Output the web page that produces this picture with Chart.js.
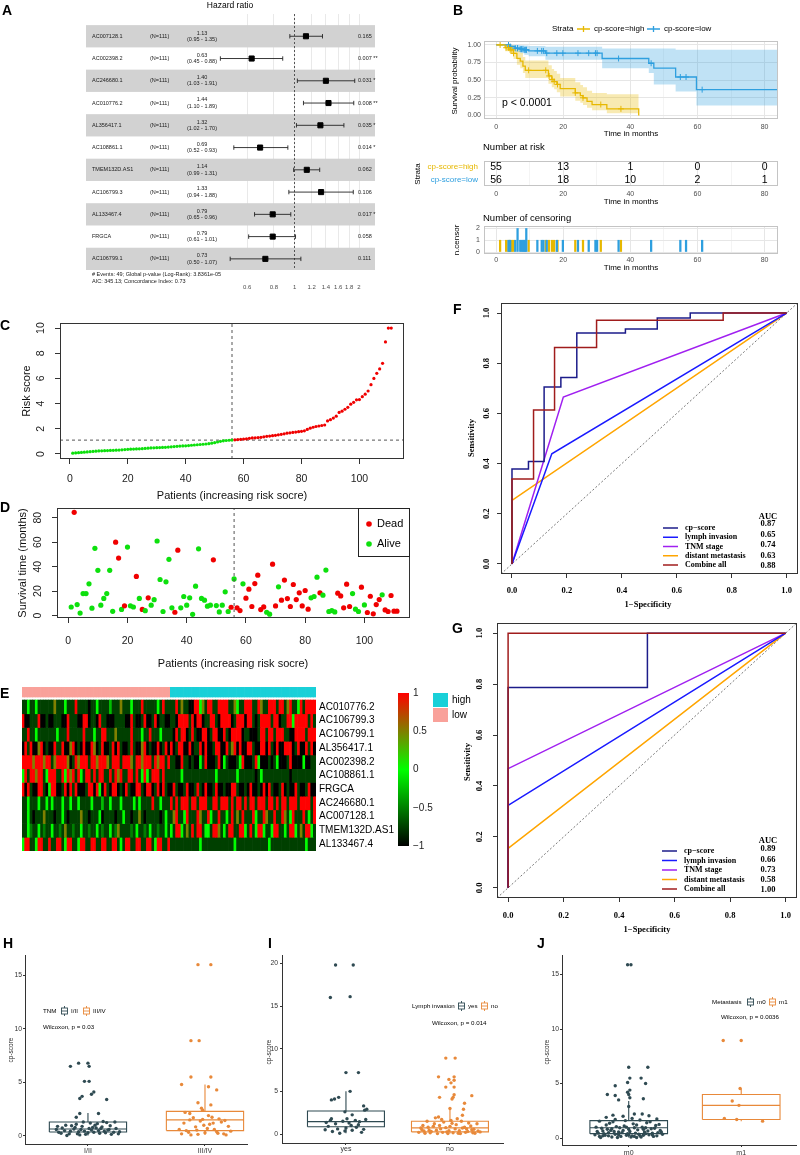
<!DOCTYPE html>
<html>
<head>
<meta charset="utf-8">
<title>cp-score figure</title>
<script src="https://cdn.jsdelivr.net/npm/chart.js@4.4.1/dist/chart.umd.min.js"></script>
<style>
  body { margin: 0; width: 800px; height: 1155px; position: relative; background: #fff; overflow: hidden;
         font-family: "Liberation Sans", Arial, sans-serif; }
  canvas { position: absolute; }
  .lbl { position: absolute; white-space: nowrap; line-height: 1; color: #000; }
</style>
</head>
<body>
<script>
// ---------------- data ----------------
// A: multivariate cox forest plot
const genes = ['AC007128.1','AC002398.2','AC246680.1','AC010776.2','AL356417.1','AC108861.1','TMEM132D.AS1','AC106799.3','AL133467.4','FRGCA','AC106799.1'];
const hr   = [1.13, 0.63, 1.40, 1.44, 1.32, 0.69, 1.14, 1.33, 0.79, 0.79, 0.73];
const hrLo = [0.95, 0.45, 1.03, 1.10, 1.02, 0.52, 0.99, 0.94, 0.65, 0.61, 0.50];
const hrHi = [1.35, 0.88, 1.91, 1.89, 1.70, 0.93, 1.31, 1.88, 0.96, 1.01, 1.07];
const pVal = ['0.165','0.007 **','0.031 *','0.008 **','0.035 *','0.014 *','0.062','0.106','0.017 *','0.058','0.111'];
const hrTicks = [0.6, 0.8, 1, 1.2, 1.4, 1.6, 1.8, 2];

// B: Kaplan-Meier
const kmHighT = [0, 2.7, 4.2, 5.2, 6.2, 7.2, 8.0, 8.7, 15.6, 16.6, 17.3, 18.1, 19.1, 23.6, 25.1, 25.9, 27.1, 28.6, 33.0, 42.5];
const kmHighS = [1, 0.96, 0.93, 0.88, 0.81, 0.77, 0.70, 0.64, 0.56, 0.51, 0.48, 0.44, 0.38, 0.32, 0.28, 0.25, 0.20, 0.155, 0.094, 0];
const kmHighU = [1, 1, 1, 0.97, 0.92, 0.89, 0.83, 0.78, 0.71, 0.66, 0.63, 0.59, 0.53, 0.47, 0.43, 0.40, 0.35, 0.32, 0.30, 0.30];
const kmHighL = [1, 0.91, 0.87, 0.80, 0.72, 0.67, 0.60, 0.53, 0.45, 0.40, 0.37, 0.33, 0.27, 0.21, 0.18, 0.15, 0.11, 0.075, 0.03, 0];
const kmLowT = [0, 4.2, 5.7, 7.2, 8.4, 9.7, 14.7, 31.6, 45.5, 47.0, 53.5, 59.7, 84];
const kmLowS = [1, 0.977, 0.953, 0.94, 0.93, 0.915, 0.883, 0.807, 0.74, 0.67, 0.545, 0.366, 0.366];
const kmLowU = [1, 1, 1, 0.995, 0.99, 0.985, 0.975, 0.95, 0.95, 0.95, 0.93, 0.93, 0.93];
const kmLowL = [1, 0.93, 0.90, 0.88, 0.86, 0.84, 0.79, 0.67, 0.60, 0.44, 0.34, 0.14, 0.14];
const censorHigh = [1.2, 3.0, 3.7, 4.2, 4.7, 5.2, 9.7, 14.8, 15.8, 16.7, 17.3, 18.3, 23.6, 25.9, 31.2, 37.2];
const censorLow = [3.7, 4.2, 5.7, 6.4, 6.4, 7.2, 7.6, 8.0, 8.4, 8.7, 9.0, 9.0, 12.3, 13.6, 14.1, 15.1, 18.1, 19.9, 24.4, 27.6, 29.6, 30.1, 36.5, 46.2, 54.9, 56.6, 61.4];
const riskTimes = [0, 20, 40, 60, 80];
const riskHigh = [55, 13, 1, 0, 0];
const riskLow = [56, 18, 10, 2, 1];
const strata = ['cp-score=high', 'cp-score=low'];

// C: risk score per patient (sorted)
const riskScore = [0.06,0.08,0.10,0.12,0.14,0.16,0.18,0.20,0.22,0.24, 0.25,0.26,0.27,0.28,0.29,0.30,0.31,0.33,0.35,0.37,
  0.38,0.39,0.40,0.41,0.42,0.44,0.46,0.48,0.49,0.50, 0.51,0.52,0.53,0.55,0.57,0.59,0.61,0.63,0.64,0.65,
  0.67,0.69,0.71,0.73,0.75,0.77,0.79,0.82,0.86,0.90, 0.95,1.00,1.04,1.07,1.09,1.10,1.12,1.14,1.16,1.18,
  1.20,1.24,1.27,1.28,1.30,1.32,1.36,1.40,1.42,1.45, 1.48,1.52,1.56,1.60,1.65,1.68,1.71,1.74,1.77,1.80,
  1.84,1.95,2.05,2.12,2.18,2.22,2.26,2.30,2.62,2.72, 2.85,3.00,3.30,3.40,3.55,3.70,3.95,4.10,4.30,4.32,
  4.55,4.75,5.00,5.50,6.00,6.40,6.75,7.20,8.90,10.0, 10.0];
const nLow = 56;
const riskCut = 1.1;

// D: survival time and status (1 = dead)
const survTime = [7,84.5,9,2,18,18,26,6,55,37, 8.5,14,18,37,3.5,60,47,5,8,56, 8,7,32,14,5,4,14.5,8.5,13,61,
  29.5,3.3,27.6,46,6.3,2.7,53.5,6.3,15.6,8.5, 14.5,1,24,54.6,14,12.6,7.7,8.5,45.6,8.2, 3,8.5,19.4,3.3,6.8,30,6.3,4.1,26,14.2,
  21.6,7.4,26.2,33,4.9,7.1,2.7,1.1,42,7.9, 23.5,12.6,29,13.9,7.4,25.4,13.1,18.6,7.9,20.5, 5.2,14.5,15.6,31.4,18.6,16.7,37.2,3.3,4.1,3,
  18.3,16.1,6.3,25.7,7.4,18,5.2,3.3,23.2,8.7, 2.5,15.8,1.4,9,13.1,17,4.6,3.3,16.4,3.6,3.6];
const survDead = [0,1,0,0,0,0,0,0,0,0, 0,0,0,0,0,1,1,0,1,0, 0,0,1,0,1,0,1,0,0,0, 0,0,0,0,0,1,1,0,0,0,
  0,0,0,0,0,0,0,0,1,0, 0,0,0,0,1,0,1,1,0,1, 1,1,1,1,1,1,0,0,1,1, 0,1,1,1,1,1,1,1,1,1,
  1,0,0,0,1,0,0,0,0,0, 1,1,1,1,1,0,0,0,1,0, 1,1,1,1,1,0,1,1,1,1,1];

// E: heatmap, levels 0..8 -> -1..1 (56 low-risk columns, then 55 high-risk columns)
const heatGenes = ['AC010776.2','AC106799.3','AC106799.1','AL356417.1','AC002398.2','AC108861.1','FRGCA','AC246680.1','AC007128.1','TMEM132D.AS1','AL133467.4'];
const heatRows = [
  '1141141111 1161114111 8111101141 1113111611 1411181111 141811  1181611008 8461881188 8811641188 8118611888 1881681148 18888',
  '8001118001 0011100811 1008801108 1100011110 0810018001 801100  1108888180 8801188108 8880188808 8101888818 8011884888 88181',
  '1181141111 1114111811 1118111411 8811161111 1811141181 114111  1081880181 0088018800 8108888011 0001881881 8881100888 81888',
  '0818006801 0081180068 0108008601 8001808100 1810068010 080180  8018800801 1808001880 0816808008 8100880810 8008880180 08180',
  '8888688868 8168888601 8688818868 8861888188 8618868881 868818  1100811010 0418000180 4100014800 0184000101 4000180000 40011',
  '4818868814 8881184868 1841881818 8118186811 8818148418 881811  1111411111 1111111411 1111141111 1101411111 1111101111 11111',
  '8081008810 4880018081 8000188084 0810880108 1008810880 180810  0810018001 8108001800 1008810010 8001080810 0180100810 01800',
  '1141114114 1411141141 1411114111 3114111411 1141411118 114111  8181888188 1888118818 8818188181 8818881881 8188188818 88818',
  '1141011161 1101141011 1161101114 0111101141 1011610111 110141  1681148111 8611841181 1418161811 1841186118 1186148111 81418',
  '1142114121 1411216112 1141121141 2114126111 1214112141 121141  4188416181 8814418861 4188118841 8148841148 8114188416 18841',
  '4881148811 8118814881 1488118811 8811881418 8118811881 488118  1111111111 1411111111 1111411111 1111111411 1111111111 14111'
];
const heatKey = [1, 0.5, 0, -0.5, -1];
const heatKeyLab = ['1', '0.5', '0', '\u22120.5', '\u22121'];

// F, G: ROC curves
const rocNames = ['cp\u2212score', 'lymph invasion', 'TNM stage', 'distant metastasis', 'Combine all'];
const fCp = [[0,0],[0,0.378],[0.06,0.378],[0.06,0.408],[0.117,0.408],[0.117,0.705],[0.178,0.705],[0.178,0.743],[0.236,0.743],[0.236,0.92],[0.413,0.92],[0.413,0.936],[0.529,0.936],[0.529,0.98],[0.649,0.98],[0.649,1],[1,1]];
const fLymph = [[0,0],[0.145,0.439],[1,1]];
const fTnm = [[0,0],[0.187,0.665],[1,1]];
const fMeta = [[0,0],[0,0.253],[1,1]];
const fAll = [[0,0],[0,0.339],[0.0785,0.339],[0.0785,0.614],[0.155,0.614],[0.155,0.863],[0.308,0.863],[0.308,0.971],[0.769,0.971],[0.769,1],[1,1]];
const aucF = ['0.87', '0.65', '0.74', '0.63', '0.88'];
const gCp = [[0,0],[0,0.787],[0.502,0.787],[0.502,1],[1,1]];
const gLymph = [[0,0],[0,0.324],[1,1]];
const gTnm = [[0,0],[0,0.468],[1,1]];
const gMeta = [[0,0],[0,0.155],[1,1]];
const gAll = [[0,0],[0,1],[1,1]];
const aucG = ['0.89', '0.66', '0.73', '0.58', '1.00'];

// H, I, J: box plots  [lower whisker, q1, median, q3, upper whisker], points [jitter, value]
const hCats = ['I/II', 'III/IV'];
const hStats = [[0.05, 0.37, 0.65, 1.3, 2.15], [0.1, 0.5, 1.5, 2.3, 4.8]];
const hDark = [[-0.15,6.5],[-0.08,6.8],[0,6.8],[0.01,6.5],[-0.03,5.1],[0.01,5.1],[0.05,4.1],[0.03,3.9],[-0.05,3.7],[-0.07,3.5],[0.16,3.4],[-0.07,2.1],[0.09,2.1],[-0.1,1.75],
  [-0.25,0.35],[-0.2,0.5],[-0.16,0.2],[-0.12,0.65],[-0.08,0.4],[-0.05,0.9],[0,0.3],[0.03,0.55],[0.07,0.75],[0.1,0.25],[0.14,0.45],[0.18,0.6],[0.22,0.35],[0.26,0.2],
  [-0.22,0.75],[-0.18,0.05],[-0.14,0.95],[-0.1,1.1],[-0.04,1.3],[0.02,1.2],[0.06,1.0],[0.12,0.85],[0.16,1.25],[0.2,0.15],[0.24,0.7],[-0.27,0.6],[-0.02,0.15],[0.04,0.8],
  [0.09,0.5],[-0.06,0.6],[0.13,1.35],[-0.15,0.45],[0.19,0.95],[-0.09,0.2],[0.01,0.7],[0.27,0.4],[-0.23,0.25],[-0.11,0.8],[0.05,0.35],[0.11,0.7],[-0.19,1.0],[0.15,0.3],
  [0.08,1.15],[-0.03,0.45],[0.23,1.3],[-0.26,0.9],[0.17,0.55],[-0.07,0.1]];
const hOrange = [[-0.06,16],[0.05,16],[-0.12,8.9],[-0.05,8.9],[-0.2,4.8],[-0.12,5.5],[0.05,5.5],[0.03,4.6],[0.1,4.3],[-0.06,3.1],[0.05,2.9],[-0.02,2.4],[-0.17,2.2],[-0.13,2.1],[-0.03,2.6],
  [-0.2,0.2],[-0.16,0.5],[-0.12,0.1],[-0.08,0.85],[-0.04,1.4],[0,0.3],[0.04,1.1],[0.08,0.6],[0.12,1.6],[0.16,0.2],[0.2,0.9],[-0.18,1.2],[-0.14,0.35],[-0.1,1.7],[-0.06,0.15],
  [-0.02,1.55],[0.02,0.7],[0.06,1.75],[0.1,0.4],[0.14,1.3],[0.18,0.1],[-0.22,0.6],[-0.01,1.0],[0.11,0.25],[-0.13,1.5],[0.07,1.2],[0.22,0.45],[-0.07,0.55],[0.03,1.9],[0.17,1.45]];
const iCats = ['yes', 'no'];
const iStats = [[0.1, 0.85, 1.45, 2.7, 5.0], [0.05, 0.25, 0.72, 1.5, 3.0]];
const iDark = [[-0.1,19.8],[0.07,19.8],[-0.15,16],[0.04,16.1],[0,7.2],[0.12,7.2],[0.04,5.0],[-0.14,4.0],[-0.11,4.1],[-0.07,4.3],[0.17,3.3],[-0.01,2.6],[0.18,2.8],[0.2,2.9],[0.06,2.25],[-0.14,1.8],
  [-0.2,0.5],[-0.17,0.9],[-0.13,0.3],[-0.1,1.2],[-0.06,0.1],[-0.03,1.5],[0,0.7],[0.03,1.3],[0.06,0.45],[0.09,1.6],[0.12,1.1],[0.15,0.2],[0.19,1.7],[-0.19,1.35],[-0.08,0.6],
  [0.01,1.8],[0.1,0.8],[-0.15,1.6],[0.05,1.0],[0.17,0.55],[-0.01,0.35],[0.13,1.45]];
const iOrange = [[-0.04,8.9],[0.05,8.9],[-0.11,6.7],[0.04,6.7],[-0.01,6.4],[0.04,6.3],[0.01,6.0],[0.04,5.5],[-0.04,5.5],[-0.1,4.3],[0.21,4.5],[0.04,4.6],[0.03,4.3],[0.02,4.1],[0.14,3.6],[0,3.0],[0.13,2.9],[-0.11,2.0],[0.12,2.2],
  [-0.3,0.2],[-0.27,0.5],[-0.24,0.1],[-0.21,0.8],[-0.18,0.3],[-0.15,1.2],[-0.12,0.05],[-0.09,0.6],[-0.06,1.4],[-0.03,0.25],[0,0.9],[0.03,0.15],[0.06,1.1],[0.09,0.4],[0.12,0.7],
  [0.15,0.2],[0.18,1.3],[0.21,0.5],[0.24,0.1],[0.27,0.35],[-0.28,0.7],[-0.25,0.35],[-0.22,1.5],[-0.19,0.15],[-0.16,0.9],[-0.13,0.45],[-0.1,1.0],[-0.07,0.2],[-0.04,0.75],
  [-0.01,0.4],[0.02,1.25],[0.05,0.6],[0.08,0.1],[0.11,1.5],[0.14,0.8],[0.17,0.3],[0.2,0.95],[0.23,0.55],[0.26,1.2],[0.29,0.25],[-0.08,1.7],[0.01,1.6],[0.07,1.8],[-0.14,1.9],
  [0.16,0.6],[-0.2,0.45],[0.1,0.05],[-0.02,0.05],[0.22,0.15],[-0.26,1.0]];
const jCats = ['m0', 'm1'];
const jStats = [[0.05, 0.4, 0.95, 1.6, 3.4], [1.55, 1.7, 3.0, 4.0, 4.55]];
const jDark = [[-0.01,15.9],[0.02,15.9],[0,6.5],[0.17,6.5],[0.01,5.5],[0.11,5.5],[-0.01,5.1],[0.15,5.0],[-0.12,4.8],[0.01,4.4],[-0.01,4.2],[-0.19,4.0],[-0.12,3.9],[0,4.0],[0.01,3.7],
  [-0.09,3.5],[0.13,3.6],[0,2.9],[0.05,2.2],[0.12,2.2],[-0.14,2.1],
  [-0.3,0.3],[-0.28,0.6],[-0.26,0.15],[-0.24,0.9],[-0.22,0.4],[-0.2,1.2],[-0.18,0.2],[-0.16,0.7],[-0.14,1.5],[-0.12,0.35],[-0.1,0.05],[-0.08,0.95],[-0.06,0.5],[-0.04,1.1],
  [-0.02,0.25],[0,0.8],[0.02,0.1],[0.04,1.3],[0.06,0.45],[0.08,0.75],[0.1,0.2],[0.12,1.0],[0.14,0.55],[0.16,1.4],[0.18,0.3],[0.2,0.85],[0.22,0.15],[0.24,1.15],[0.26,0.5],
  [0.28,0.7],[0.3,0.35],[-0.29,1.0],[-0.27,0.45],[-0.25,0.05],[-0.23,0.65],[-0.21,0.25],[-0.19,0.8],[-0.17,1.35],[-0.15,0.1],[-0.13,0.6],[-0.11,1.05],[-0.09,0.3],[-0.07,0.15],
  [-0.05,0.7],[-0.03,1.6],[-0.01,0.4],[0.01,0.6],[0.03,0.2],[0.05,0.95],[0.07,1.2],[0.09,0.35],[0.11,0.1],[0.13,0.8],[0.15,0.4],[0.17,0.65],[0.19,1.5],[0.21,0.3],[0.23,0.9],
  [0.25,0.2],[0.27,1.25],[0.29,0.55],[-0.2,1.9],[-0.12,1.7],[-0.05,2.0],[0.03,1.8],[0.1,1.65],[0.18,2.05],[0.25,1.75],[-0.26,1.55],[0.07,0.05],[-0.18,0.5],[0,0.3],[-0.09,0.55],
  [0.13,0.25],[0.21,0.45],[-0.02,1.0],[0.15,0.95],[-0.15,0.85],[0.05,0.15],[-0.23,0.2]];
const jOrange = [[-0.16,8.95],[0,8.95],[-0.01,4.55],[-0.08,3.4],[-0.02,3.0],[-0.15,1.8],[-0.04,1.7],[0.19,1.55]];

// ---------------- styles ----------------
const kmCol = ['#E7B800', '#2E9FDF'];
const groupCols = ['#F9A19A', '#19D0D8'];   // low, high
const rocCols = ['#1c1c8a', '#1a1aff', '#a020f0', '#ffa500', '#a01c1c'];
const boxCols = ['#2F4A52', '#E8893A'];
const SERIF = '"Liberation Serif", "Times New Roman", serif';
const GAP = { x: null, y: null };

Chart.defaults.animation = false;
Chart.defaults.font.family = '"Liberation Sans", Arial, sans-serif';
Chart.defaults.plugins.legend.display = false;
Chart.defaults.plugins.tooltip.enabled = false;

function canvas(x, y, w, h) {
  const c = document.createElement('canvas');
  c.width = w; c.height = h;
  c.style.left = x + 'px'; c.style.top = y + 'px';
  c.style.width = w + 'px'; c.style.height = h + 'px';
  document.body.appendChild(c);
  return c;
}
function put(text, x, y, css, how) {
  const d = document.createElement('div');
  d.className = 'lbl';
  d.textContent = text;
  d.style.left = x + 'px'; d.style.top = y + 'px';
  let t = how === 'l' ? 'translate(0,-50%)' : how === 'r' ? 'translate(-100%,-50%)' : 'translate(-50%,-50%)';
  if (how === 'v') t += ' rotate(-90deg)';
  d.style.transform = t;
  d.style.cssText += css;
  document.body.appendChild(d);
}
const base = extra => Object.assign({ responsive: false, devicePixelRatio: 1, events: [], animation: false }, extra);
const fixTicks = vals => s => { s.ticks = vals.map(v => ({ value: v })); };

// frame round the plot area, and y tick labels written up the axis (R style)
Chart.register({
  id: 'frame',
  afterDatasetsDraw(ch, a, o) {
    if (!o || !o.color) return;
    const r = ch.chartArea, ctx = ch.ctx;
    ctx.save(); ctx.strokeStyle = o.color; ctx.lineWidth = 1;
    ctx.strokeRect(Math.round(r.left) + 0.5, Math.round(r.top) + 0.5, Math.round(r.right - r.left) - 1, Math.round(r.bottom - r.top) - 1);
    ctx.restore();
  }
});
Chart.register({
  id: 'rotY',
  afterDraw(ch, a, o) {
    if (!o || !o.values) return;
    const s = ch.scales.y, ctx = ch.ctx;
    ctx.save(); ctx.font = o.font; ctx.fillStyle = o.color || '#000';
    ctx.textAlign = 'center'; ctx.textBaseline = 'middle';
    o.values.forEach(v => {
      ctx.save(); ctx.translate(o.x, s.getPixelForValue(v)); ctx.rotate(-Math.PI / 2);
      ctx.fillText(o.fmt(v), 0, 0); ctx.restore();
    });
    ctx.restore();
  }
});

// ---------------- A: forest plot ----------------
{
  const c = canvas(0, 0, 400, 300);
  const whisk = [];
  genes.forEach((g, i) => { whisk.push({ x: hrLo[i], y: i + 1 }, { x: hrHi[i], y: i + 1 }, GAP); });
  const forest = {
    id: 'forest',
    beforeDatasetsDraw(ch) {
      const { ctx, chartArea: a, scales: { y } } = ch;
      ctx.save(); ctx.fillStyle = '#d2d2d2';
      genes.forEach((g, i) => {
        if (i % 2) return;
        const t = y.getPixelForValue(i + 0.5), b = y.getPixelForValue(i + 1.5);
        ctx.fillRect(a.left, t, a.right - a.left, b - t);
      });
      ctx.restore();
    },
    afterDatasetsDraw(ch) {
      const { ctx, scales: { y } } = ch;
      ctx.save(); ctx.fillStyle = '#1a1a1a'; ctx.font = '5.5px "Liberation Sans"'; ctx.textBaseline = 'middle';
      genes.forEach((g, i) => {
        const py = y.getPixelForValue(i + 1);
        ctx.textAlign = 'left';
        ctx.fillText(g, 92, py); ctx.fillText('(N=111)', 150, py); ctx.fillText(pVal[i], 358, py);
        ctx.textAlign = 'center';
        ctx.fillText(hr[i].toFixed(2), 202, py - 3.2);
        ctx.fillText('(' + hrLo[i].toFixed(2) + ' - ' + hrHi[i].toFixed(2) + ')', 202, py + 3.2);
      });
      ctx.textAlign = 'left';
      ctx.fillText('# Events: 49; Global p-value (Log-Rank): 3.8361e-05', 92, 274);
      ctx.fillText('AIC: 345.13; Concordance Index: 0.73', 92, 281);
      ctx.font = '8.5px "Liberation Sans"'; ctx.textAlign = 'center'; ctx.fillStyle = '#000';
      ctx.fillText('Hazard ratio', 230, 6);
      ctx.restore();
    }
  };
  new Chart(c, {
    type: 'scatter',
    data: { datasets: [
      { data: hr.map((v, i) => ({ x: v, y: i + 1 })), pointStyle: 'rect', pointRadius: 3.6, backgroundColor: '#000', borderColor: '#000' },
      { data: whisk, showLine: true, spanGaps: false, borderColor: '#222', borderWidth: 0.9, pointStyle: 'line', pointRotation: 90, pointRadius: 2.2, pointBorderColor: '#222', pointBorderWidth: 0.9 },
      { data: [{ x: 1, y: 0 }, { x: 1, y: 11.5 }], showLine: true, borderColor: '#333', borderWidth: 0.8, borderDash: [2, 2], pointRadius: 0 }
    ] },
    options: base({
      layout: { padding: { left: 86, right: 25, top: 14, bottom: 0 } },
      scales: {
        x: { type: 'logarithmic', min: 0.106, max: 2.375, afterFit: s => { s.height = 30; }, afterBuildTicks: fixTicks(hrTicks),
             ticks: { callback: v => String(v), font: { size: 6 }, color: '#4d4d4d', padding: 14, maxRotation: 0, autoSkip: false },
             grid: { color: '#e3e3e3', lineWidth: 0.8, drawTicks: false }, border: { display: false } },
        y: { display: false, min: 0, max: 11.5, reverse: true }
      }
    }),
    plugins: [forest]
  });
}

// ---------------- B: Kaplan-Meier, risk table, censoring ----------------
const survAt = (T, S, t) => { let s = S[0]; T.forEach((ti, i) => { if (ti <= t) s = S[i]; }); return s; };
const kmX = (h, pad) => ({
  type: 'linear', min: -3.6, max: 84, afterFit: s => { s.height = h; }, afterBuildTicks: fixTicks([0, 10, 20, 30, 40, 50, 60, 70, 80]),
  ticks: { callback: (v, i) => (i % 2 ? '' : String(v)), font: { size: 7 }, color: '#4d4d4d', padding: pad, maxRotation: 0, autoSkip: false },
  grid: { color: ctx => (ctx.index % 2 ? '#f4f4f4' : '#e6e6e6'), drawTicks: false, offset: false }, border: { display: false }
});
{
  const c = canvas(400, 0, 400, 142);
  const pts = (T, S) => T.map((t, i) => ({ x: t, y: S[i] }));
  const none = 'rgba(0,0,0,0)';
  const kmKey = {
    id: 'kmKey',
    afterDraw(ch) {
      const ctx = ch.ctx;
      ctx.save(); ctx.lineWidth = 1.3;
      [[177, kmCol[0]], [247, kmCol[1]]].forEach(([x, col]) => {
        ctx.strokeStyle = col; ctx.beginPath();
        ctx.moveTo(x, 29); ctx.lineTo(x + 13, 29);
        ctx.moveTo(x + 6.5, 26); ctx.lineTo(x + 6.5, 32); ctx.stroke();
      });
      ctx.restore();
    }
  };
  new Chart(c, {
    type: 'line',
    data: { datasets: [
      { data: censorHigh.map(t => ({ x: t, y: survAt(kmHighT, kmHighS, t) })), showLine: false, pointStyle: 'cross', pointRadius: 3, borderColor: kmCol[0], pointBorderWidth: 1 },
      { data: censorLow.map(t => ({ x: t, y: survAt(kmLowT, kmLowS, t) })), showLine: false, pointStyle: 'cross', pointRadius: 3, borderColor: kmCol[1], pointBorderWidth: 1 },
      { data: pts(kmHighT, kmHighS), stepped: true, borderColor: kmCol[0], borderWidth: 1.3, pointRadius: 0 },
      { data: pts(kmLowT, kmLowS), stepped: true, borderColor: kmCol[1], borderWidth: 1.3, pointRadius: 0 },
      { data: pts(kmHighT, kmHighU), stepped: true, borderColor: none, borderWidth: 0, pointRadius: 0, fill: '+1', backgroundColor: 'rgba(231,184,0,0.3)' },
      { data: pts(kmHighT, kmHighL), stepped: true, borderColor: none, borderWidth: 0, pointRadius: 0 },
      { data: pts(kmLowT, kmLowU), stepped: true, borderColor: none, borderWidth: 0, pointRadius: 0, fill: '+1', backgroundColor: 'rgba(46,159,223,0.3)' },
      { data: pts(kmLowT, kmLowL), stepped: true, borderColor: none, borderWidth: 0, pointRadius: 0 }
    ] },
    options: base({
      layout: { padding: { left: 0, right: 22, top: 41, bottom: 0 } },
      scales: {
        x: kmX(23, 4),
        y: { min: -0.05, max: 1.055, afterFit: s => { s.width = 84; }, afterBuildTicks: fixTicks([0, 0.125, 0.25, 0.375, 0.5, 0.625, 0.75, 0.875, 1]),
             ticks: { callback: (v, i) => (i % 2 ? '' : v.toFixed(2)), font: { size: 7 }, color: '#4d4d4d', padding: 3 },
             grid: { color: ctx => (ctx.index % 2 ? '#f4f4f4' : '#e6e6e6'), drawTicks: false }, border: { display: false } }
      },
      plugins: { frame: { color: '#c4c4c4' } }
    }),
    plugins: [kmKey]
  });
}
{
  const c = canvas(400, 140, 400, 70);
  const riskText = {
    id: 'riskText',
    afterDatasetsDraw(ch) {
      const ctx = ch.ctx;
      ctx.save(); ctx.font = '10.5px "Liberation Sans"'; ctx.fillStyle = '#000'; ctx.textAlign = 'center'; ctx.textBaseline = 'middle';
      [riskHigh, riskLow].forEach((vals, d) => ch.getDatasetMeta(d).data.forEach((p, i) => ctx.fillText(String(vals[i]), p.x, p.y)));
      ctx.restore();
    }
  };
  new Chart(c, {
    type: 'line',
    data: { datasets: [
      { data: riskTimes.map(t => ({ x: t, y: strata[0] })), showLine: false, pointRadius: 0 },
      { data: riskTimes.map(t => ({ x: t, y: strata[1] })), showLine: false, pointRadius: 0 }
    ] },
    options: base({
      layout: { padding: { left: 0, right: 22, top: 21, bottom: 0 } },
      scales: {
        x: kmX(24, 4),
        y: { type: 'category', labels: strata, offset: true, afterFit: s => { s.width = 84; },
             ticks: { font: { size: 8 }, color: ctx => kmCol[ctx.index], padding: 6, autoSkip: false },
             grid: { display: false, drawTicks: false }, border: { display: false } }
      },
      plugins: { frame: { color: '#c4c4c4' } }
    }),
    plugins: [riskText]
  });
}
{
  const c = canvas(400, 205, 400, 70);
  const counts = times => { const m = new Map(); times.forEach(t => m.set(t, (m.get(t) || 0) + 1)); return [...m].map(([x, y]) => ({ x, y })); };
  new Chart(c, {
    type: 'bar',
    data: { datasets: [
      { data: counts(censorLow), backgroundColor: kmCol[1], barThickness: 1.6, grouped: false },
      { data: counts(censorHigh), backgroundColor: kmCol[0], barThickness: 1.6, grouped: false }
    ] },
    options: base({
      layout: { padding: { left: 0, right: 22, top: 21, bottom: 0 } },
      scales: {
        x: Object.assign(kmX(21, 2), { offset: false }),
        y: { min: -0.17, max: 2.21, afterFit: s => { s.width = 84; }, afterBuildTicks: fixTicks([0, 0.5, 1, 1.5, 2]),
             ticks: { callback: (v, i) => (i % 2 ? '' : String(v)), font: { size: 7 }, color: '#4d4d4d', padding: 4 },
             grid: { color: ctx => (ctx.index % 2 ? '#f4f4f4' : '#e6e6e6'), drawTicks: false }, border: { display: false } }
      },
      plugins: { frame: { color: '#c4c4c4' } }
    })
  });
}

// ---------------- C: risk score ----------------
const rAxisX = (h, pad, vals) => ({
  type: 'linear', afterFit: s => { s.height = h; }, afterBuildTicks: fixTicks(vals),
  ticks: { font: { size: 10.5 }, color: '#222', padding: pad, maxRotation: 0, autoSkip: false },
  grid: { drawOnChartArea: false, tickLength: 5, color: '#333' }, border: { display: false }
});
const rAxisY = (w, vals) => ({
  afterFit: s => { s.width = w; }, afterBuildTicks: fixTicks(vals), ticks: { display: false },
  grid: { drawOnChartArea: false, tickLength: 5, color: '#333' }, border: { display: false }
});
{
  const c = canvas(0, 300, 420, 205);
  new Chart(c, {
    type: 'scatter',
    data: { datasets: [
      { data: riskScore.map((v, i) => ({ x: i + 1, y: v })), pointRadius: 1.6, pointBorderWidth: 0,
        pointBackgroundColor: riskScore.map((v, i) => (i < nLow ? '#0de00d' : '#f00000')) },
      { data: [{ x: nLow, y: -0.4 }, { x: nLow, y: 10.4 }], showLine: true, borderColor: '#555', borderWidth: 1, borderDash: [3, 3], pointRadius: 0 },
      { data: [{ x: -3.4, y: riskCut }, { x: 115.4, y: riskCut }], showLine: true, borderColor: '#555', borderWidth: 1, borderDash: [3, 3], pointRadius: 0 }
    ] },
    options: base({
      layout: { padding: { left: 0, right: 16, top: 23, bottom: 0 } },
      scales: {
        x: Object.assign(rAxisX(46, 9, [0, 20, 40, 60, 80, 100]), { min: -3.4, max: 115.4 }),
        y: Object.assign(rAxisY(60, [0, 2, 4, 6, 8, 10]), { min: -0.4, max: 10.4 })
      },
      plugins: { frame: { color: '#333' }, rotY: { values: [0, 2, 4, 6, 8, 10], x: 41, font: '10.5px "Liberation Sans"', color: '#222', fmt: String } }
    })
  });
}

// ---------------- D: survival status ----------------
{
  const c = canvas(0, 500, 420, 172);
  const statusKey = {
    id: 'statusKey',
    afterDraw(ch) {
      const ctx = ch.ctx, a = ch.chartArea;
      const x0 = 358, y0 = Math.round(a.top), y1 = 57;
      ctx.save();
      ctx.fillStyle = '#fff'; ctx.fillRect(x0, y0, a.right - x0, y1 - y0);
      ctx.strokeStyle = '#222'; ctx.lineWidth = 1; ctx.strokeRect(x0 + 0.5, y0 + 0.5, a.right - x0 - 1, y1 - y0 - 1);
      ctx.font = '11px "Liberation Sans"'; ctx.textBaseline = 'middle'; ctx.textAlign = 'left';
      [['Dead', '#f00000', 24], ['Alive', '#0de00d', 44]].forEach(([t, col, y]) => {
        ctx.fillStyle = col; ctx.beginPath(); ctx.arc(369, y, 2.8, 0, Math.PI * 2); ctx.fill();
        ctx.fillStyle = '#000'; ctx.fillText(t, 377, y);
      });
      ctx.restore();
    }
  };
  new Chart(c, {
    type: 'scatter',
    data: { datasets: [
      { data: [{ x: nLow, y: -2 }, { x: nLow, y: 88 }], showLine: true, borderColor: '#555', borderWidth: 1, borderDash: [3, 3], pointRadius: 0 },
      { data: survTime.map((v, i) => ({ x: i + 1, y: v })), pointRadius: 2.6, pointBorderWidth: 0,
        pointBackgroundColor: survDead.map(d => (d ? '#f00000' : '#0de00d')) }
    ] },
    options: base({
      layout: { padding: { left: 0, right: 10, top: 8, bottom: 0 } },
      scales: {
        x: Object.assign(rAxisX(54, 12, [0, 20, 40, 60, 80, 100]), { min: -3.8, max: 115.4 }),
        y: Object.assign(rAxisY(57, [0, 20, 40, 60, 80]), { min: -2, max: 88 })
      },
      plugins: { frame: { color: '#333' }, rotY: { values: [0, 20, 40, 60, 80], x: 38, font: '10.5px "Liberation Sans"', color: '#222', fmt: String } }
    }),
    plugins: [statusKey]
  });
}

// ---------------- E: heatmap ----------------
const heatColor = v => (v < 0 ? `rgb(0,${Math.round(255 * (v + 1))},0)` : `rgb(${Math.round(255 * v)},${Math.round(255 * (1 - v))},0)`);
{
  const c = canvas(0, 680, 480, 180);
  const cells = heatRows.map(s => s.replace(/\s/g, '').split('').map(ch => (Number(ch) - 4) / 4));
  const cols = cells[0].map((v, i) => i + 1);
  const sets = [{
    data: cols.map(() => [-0.95, -0.22]), backgroundColor: cols.map((v, i) => (i < nLow ? groupCols[0] : groupCols[1])),
    grouped: false, barPercentage: 1, categoryPercentage: 1, borderWidth: 0
  }];
  cells.forEach((row, r) => sets.push({
    data: row.map(() => [r, r + 1]), backgroundColor: row.map(heatColor),
    grouped: false, barPercentage: 1, categoryPercentage: 1, borderWidth: 0
  }));
  const heatDecor = {
    id: 'heatDecor',
    afterDraw(ch) {
      const ctx = ch.ctx, y = ch.scales.y, a = ch.chartArea;
      ctx.save();
      ctx.font = '10px "Liberation Sans"'; ctx.fillStyle = '#000'; ctx.textAlign = 'left'; ctx.textBaseline = 'middle';
      heatGenes.forEach((g, r) => ctx.fillText(g, a.right + 3, y.getPixelForValue(r + 0.5)));
      const top = 13, bot = 166, kx = 398;
      const grad = ctx.createLinearGradient(0, top, 0, bot);
      grad.addColorStop(0, heatColor(1)); grad.addColorStop(0.5, heatColor(0)); grad.addColorStop(1, heatColor(-1));
      ctx.fillStyle = grad; ctx.fillRect(kx, top, 11, bot - top);
      ctx.fillStyle = '#222';
      heatKey.forEach((v, i) => ctx.fillText(heatKeyLab[i], kx + 15, top + (bot - top) * (1 - v) / 2));
      ctx.fillStyle = groupCols[1]; ctx.fillRect(433, 13, 15, 14);
      ctx.fillStyle = groupCols[0]; ctx.fillRect(433, 28, 15, 14);
      ctx.fillStyle = '#000'; ctx.fillText('high', 452, 20); ctx.fillText('low', 452, 35);
      ctx.restore();
    }
  };
  new Chart(c, {
    type: 'bar',
    data: { labels: cols, datasets: sets },
    options: base({
      layout: { padding: { left: 22, right: 164, top: 7, bottom: 9 } },
      scales: { x: { display: false }, y: { display: false, min: -0.95, max: 11, reverse: true } }
    }),
    plugins: [heatDecor]
  });
}

// ---------------- F, G: ROC ----------------
const rocKey = {
  id: 'rocKey',
  afterDraw(ch, a, o) {
    const ctx = ch.ctx;
    ctx.save(); ctx.textBaseline = 'middle'; ctx.fillStyle = '#000';
    rocNames.forEach((n, i) => {
      ctx.strokeStyle = rocCols[i]; ctx.lineWidth = 1.5;
      ctx.beginPath(); ctx.moveTo(o.lx, o.ly + i * o.step); ctx.lineTo(o.lx + 15, o.ly + i * o.step); ctx.stroke();
      ctx.font = 'bold 8px ' + SERIF; ctx.textAlign = 'left';
      ctx.fillText(n, o.lx + 22, o.ly + i * o.step);
      ctx.font = 'bold 8.5px ' + SERIF; ctx.textAlign = 'center';
      ctx.fillText(o.auc[i], o.ax, o.ay + i * o.astep);
    });
    ctx.fillText('AUC', o.ax, o.ah);
    ctx.restore();
  }
};
function roc(o) {
  const c = canvas(440, o.top, 360, o.h);
  const line = (pts, col) => ({ data: pts.map(p => ({ x: p[0], y: p[1] })), showLine: true, borderColor: col, borderWidth: 1.5, pointRadius: 0 });
  const ticks = [0, 0.2, 0.4, 0.6, 0.8, 1];
  new Chart(c, {
    type: 'scatter',
    data: { datasets: [
      line(o.curves[4], rocCols[4]), line(o.curves[0], rocCols[0]), line(o.curves[1], rocCols[1]),
      line(o.curves[2], rocCols[2]), line(o.curves[3], rocCols[3]),
      { data: [{ x: -0.04, y: -0.04 }, { x: 1.04, y: 1.04 }], showLine: true, borderColor: '#555', borderWidth: 0.8, borderDash: [2, 2], pointRadius: 0 }
    ] },
    options: base({
      layout: { padding: { left: 0, right: 2, top: o.pt, bottom: 0 } },
      scales: {
        x: { type: 'linear', min: -0.04, max: 1.04, afterFit: s => { s.height = o.xh; }, afterBuildTicks: fixTicks(ticks),
             ticks: { callback: v => v.toFixed(1), font: { size: 8.5, weight: 'bold', family: SERIF }, color: '#000', padding: o.xp, maxRotation: 0, autoSkip: false },
             grid: { drawOnChartArea: false, tickLength: 4, color: '#333' }, border: { display: false } },
        y: Object.assign(rAxisY(o.yw, ticks), { min: -0.04, max: 1.04, grid: { drawOnChartArea: false, tickLength: 4, color: '#333' } })
      },
      plugins: {
        frame: { color: '#333' },
        rotY: { values: ticks, x: o.yl, font: 'bold 8.5px ' + SERIF, color: '#000', fmt: v => v.toFixed(1) },
        rocKey: o.key
      }
    }),
    plugins: [rocKey]
  });
}
roc({ top: 295, h: 325, pt: 8, xh: 46, xp: 8, yw: 61, yl: 47, curves: [fCp, fLymph, fTnm, fMeta, fAll],
      key: { lx: 223, ly: 233, step: 9.25, ax: 328, ay: 229, astep: 10.5, ah: 222, auc: aucF } });
roc({ top: 618, h: 322, pt: 5, xh: 42, xp: 9, yw: 57, yl: 40, curves: [gCp, gLymph, gTnm, gMeta, gAll],
      key: { lx: 222, ly: 233, step: 9.5, ax: 328, ay: 231, astep: 10.3, ah: 223, auc: aucG } });

// ---------------- H, I, J: box plots ----------------
const boxKey = {
  id: 'boxKey',
  afterDraw(ch, a, o) {
    const ctx = ch.ctx;
    ctx.save(); ctx.font = '6.2px "Liberation Sans"'; ctx.fillStyle = '#000'; ctx.textBaseline = 'middle'; ctx.textAlign = 'left';
    ctx.fillText(o.title, o.x, o.y);
    o.items.forEach((it, i) => {
      const ix = o.ix[i];
      ctx.strokeStyle = boxCols[i]; ctx.lineWidth = 0.9;
      ctx.strokeRect(ix + 0.5, o.y - 3, 6, 6);
      ctx.beginPath();
      ctx.moveTo(ix + 0.5, o.y); ctx.lineTo(ix + 6.5, o.y);
      ctx.moveTo(ix + 3.5, o.y - 5); ctx.lineTo(ix + 3.5, o.y - 3);
      ctx.moveTo(ix + 3.5, o.y + 3); ctx.lineTo(ix + 3.5, o.y + 5);
      ctx.stroke();
      ctx.fillText(it, ix + 10, o.y);
    });
    ctx.fillText(o.test, o.tx, o.ty);
    ctx.restore();
  }
};
function boxLines(cx, s, w) {
  return [{ x: cx - w, y: s[1] }, { x: cx + w, y: s[1] }, { x: cx + w, y: s[3] }, { x: cx - w, y: s[3] }, { x: cx - w, y: s[1] }, GAP,
          { x: cx - w, y: s[2] }, { x: cx + w, y: s[2] }, GAP,
          { x: cx, y: s[0] }, { x: cx, y: s[1] }, GAP, { x: cx, y: s[3] }, { x: cx, y: s[4] }];
}
function boxPanel(o) {
  const c = canvas(o.x, 945, o.w, 210);
  const jit = (arr, k) => arr.map(p => ({ x: k + 1 + p[0], y: p[1] }));
  new Chart(c, {
    type: 'scatter',
    data: { datasets: [
      { data: jit(o.pts[0], 0), pointRadius: 1.7, pointBorderWidth: 0, pointBackgroundColor: boxCols[0] },
      { data: jit(o.pts[1], 1), pointRadius: 1.7, pointBorderWidth: 0, pointBackgroundColor: boxCols[1] },
      { data: boxLines(1, o.stats[0], o.bw), showLine: true, spanGaps: false, borderColor: boxCols[0], borderWidth: 1.1, pointRadius: 0 },
      { data: boxLines(2, o.stats[1], o.bw), showLine: true, spanGaps: false, borderColor: boxCols[1], borderWidth: 1.1, pointRadius: 0 }
    ] },
    options: base({
      layout: { padding: { left: 0, right: o.w - o.r, top: 10, bottom: 0 } },
      scales: {
        x: { type: 'linear', min: o.xmin, max: o.xmax, afterFit: s => { s.height = 210 - o.b; }, afterBuildTicks: fixTicks([1, 2]),
             ticks: { callback: (v, i) => o.cats[i], font: { size: 7 }, color: '#333', padding: o.xp, maxRotation: 0, autoSkip: false },
             grid: { drawOnChartArea: false, tickLength: 2, color: '#333' }, border: { color: '#333', width: 1 } },
        y: { min: o.ymin, max: o.ymax, afterFit: s => { s.width = o.l; }, afterBuildTicks: fixTicks(o.yt),
             ticks: { font: { size: 6.8 }, color: '#333', padding: o.yp },
             grid: { drawOnChartArea: false, tickLength: 2, color: '#333' }, border: { color: '#333', width: 1 } }
      },
      plugins: { boxKey: o.key }
    }),
    plugins: [boxKey]
  });
}
boxPanel({ x: 0, w: 265, l: 25, r: 247, b: 199, xmin: 0.462, xmax: 2.359, ymin: -0.75, ymax: 16.9, yt: [0, 5, 10, 15], xp: 1, yp: 1,
           bw: 0.33, cats: hCats, stats: hStats, pts: [hDark, hOrange],
           key: { title: 'TNM', x: 43, y: 66, items: hCats, ix: [61, 83], test: 'Wilcoxon, p = 0.03', tx: 43, ty: 82 } });
boxPanel({ x: 265, w: 270, l: 17, r: 238, b: 198, xmin: 0.385, xmax: 2.51, ymin: -1.05, ymax: 20.98, yt: [0, 5, 10, 15, 20], xp: 0, yp: 2,
           bw: 0.37, cats: iCats, stats: iStats, pts: [iDark, iOrange],
           key: { title: 'Lymph invasion', x: 147, y: 61, items: iCats, ix: [193, 216], test: 'Wilcoxon, p = 0.014', tx: 167, ty: 78 } });
boxPanel({ x: 530, w: 270, l: 32, r: 267, b: 200, xmin: 0.407, xmax: 2.487, ymin: -0.64, ymax: 16.8, yt: [0, 5, 10, 15], xp: 2, yp: 1,
           bw: 0.345, cats: jCats, stats: jStats, pts: [jDark, jOrange],
           key: { title: 'Metastasis', x: 182, y: 57, items: jCats, ix: [217, 239], test: 'Wilcoxon, p = 0.0036', tx: 191, ty: 72 } });

// ---------------- static labels ----------------
const tag = 'font-weight:bold;font-size:14px;';
[['A', 2, 10], ['B', 453, 10], ['C', 0, 325], ['D', 0, 507], ['E', 0, 693], ['F', 453, 309], ['G', 452, 628],
 ['H', 3, 943], ['I', 268, 943], ['J', 537, 943]].forEach(([t, x, y]) => put(t, x, y, tag, 'l'));

const s8 = 'font-size:8px;';
put('Strata', 552, 29, s8, 'l');
put(strata[0], 594, 29, s8, 'l');
put(strata[1], 664, 29, s8, 'l');
put('Survival probability', 455, 81, s8, 'v');
put('Time in months', 631, 134, s8, 'c');
put('p < 0.0001', 502, 102, 'font-size:10.5px;', 'l');
put('Number at risk', 483, 147, 'font-size:9.5px;', 'l');
put('Strata', 418, 174, s8, 'v');
put('Time in months', 631, 202, s8, 'c');
put('Number of censoring', 483, 218, 'font-size:9.5px;', 'l');
put('n.censor', 457, 240, s8, 'v');
put('Time in months', 631, 268, s8, 'c');

const s11 = 'font-size:11px;color:#111;';
put('Risk score', 26, 391, s11, 'v');
put('Patients (increasing risk socre)', 232, 495, s11, 'c');
put('Survival time (months)', 22, 563, s11, 'v');
put('Patients (increasing risk socre)', 233, 663, s11, 'c');

const sf = 'font-family:' + SERIF + ';font-weight:bold;font-size:8.5px;';
put('Sensitivity', 471, 438, sf, 'v');
put('1\u2212Specificity', 648, 604, sf, 'c');
put('Sensitivity', 467, 762, sf, 'v');
put('1\u2212Specificity', 647, 929, sf, 'c');

const sb = 'font-size:6.5px;color:#222;';
put('cp-score', 11, 1050, sb, 'v');
put('cp-score', 269, 1052, sb, 'v');
put('cp-score', 547, 1052, sb, 'v');
</script>
</body>
</html>
